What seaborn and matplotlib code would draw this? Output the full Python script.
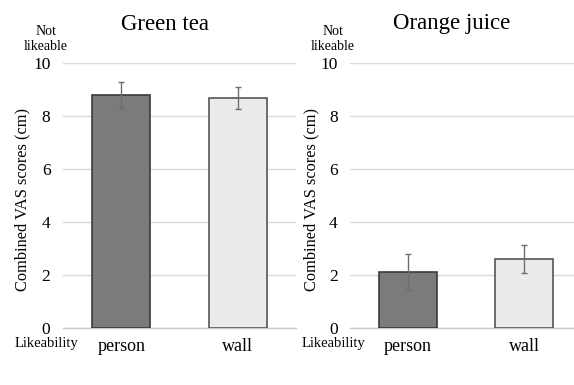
import matplotlib
matplotlib.use("Agg")
import matplotlib.pyplot as plt
import seaborn as sns
import pandas as pd

# Combined VAS scores per drink and gaze target
conditions = ["person", "wall"]
green_tea_means = [8.79, 8.68]
green_tea_err = [0.50, 0.40]
orange_juice_means = [2.10, 2.60]
orange_juice_err = [0.68, 0.54]
yticks = [0, 2, 4, 6, 8, 10]

sns.set_theme(style="white")
plt.rcParams["font.family"] = ["Liberation Serif", "DejaVu Serif"]

bar_fill = ["#7b7b7d", "#ebebeb"]
bar_edge = ["#3a3a3a", "#555555"]

fig = plt.figure(figsize=(5.74, 3.85), dpi=100)
W, H = 574, 385


def px_axes(x0, x1, y0, y1):
    return fig.add_axes([x0 / W, 1 - y1 / H, (x1 - x0) / W, (y1 - y0) / H])


panels = [
    ("Green tea", green_tea_means, green_tea_err, (63, 296), 1.5, 165, 30),
    ("Orange juice", orange_juice_means, orange_juice_err, (350, 574), 1.43, 452, 319),
]

for title, means, errs, (x0, x1), xmax, title_x, ylab_x in panels:
    ax = px_axes(x0, x1, 63, 328)
    df = pd.DataFrame({"condition": conditions, "score": means})
    sns.barplot(data=df, x="condition", y="score", hue="condition",
                palette=bar_fill, width=0.5, errorbar=None, legend=False,
                linewidth=1.2, ax=ax, zorder=3)
    for patch, ec in zip(ax.patches, bar_edge):
        patch.set_edgecolor(ec)
    ax.errorbar(range(len(conditions)), means, yerr=errs, fmt="none",
                ecolor="#6e6e6e", elinewidth=1.0, capsize=2.5, capthick=1.0,
                zorder=4)
    ax.set_ylim(0, 10)
    ax.set_xlim(-0.5, xmax)
    ax.set_yticks(yticks)
    ax.set_yticklabels([str(t) for t in yticks])
    ax.yaxis.grid(True, color="#d9d9d9", linewidth=1.0, zorder=0)
    ax.set_axisbelow(True)
    for s in ["top", "right", "left"]:
        ax.spines[s].set_visible(False)
    ax.spines["bottom"].set_color("#c8c8c8")
    ax.spines["bottom"].set_linewidth(1.0)
    ax.tick_params(axis="y", length=0, pad=9, labelsize=12.5, labelcolor="black")
    ax.tick_params(axis="x", length=0, pad=7, labelsize=13, labelcolor="black")
    ax.set_xlabel("")
    ax.set_ylabel("Combined VAS scores (cm)", fontsize=11.8, color="black")
    ax.yaxis.set_label_coords((ylab_x - x0) / (x1 - x0), 0.485)
    fig.text(title_x / W, 1 - 24 / H, title, ha="center", va="center",
             fontsize=16.5, color="black")
    lab_x = x0 - 17
    fig.text(lab_x / W, 1 - 39 / H, "Not\nlikeable", ha="center",
             va="center", fontsize=10, linespacing=1.25, color="black")
    fig.text(lab_x / W, 1 - 343 / H, "Likeability", ha="center",
             va="center", fontsize=10.5, color="black")

fig.savefig("out.png", dpi=100, facecolor="white")
